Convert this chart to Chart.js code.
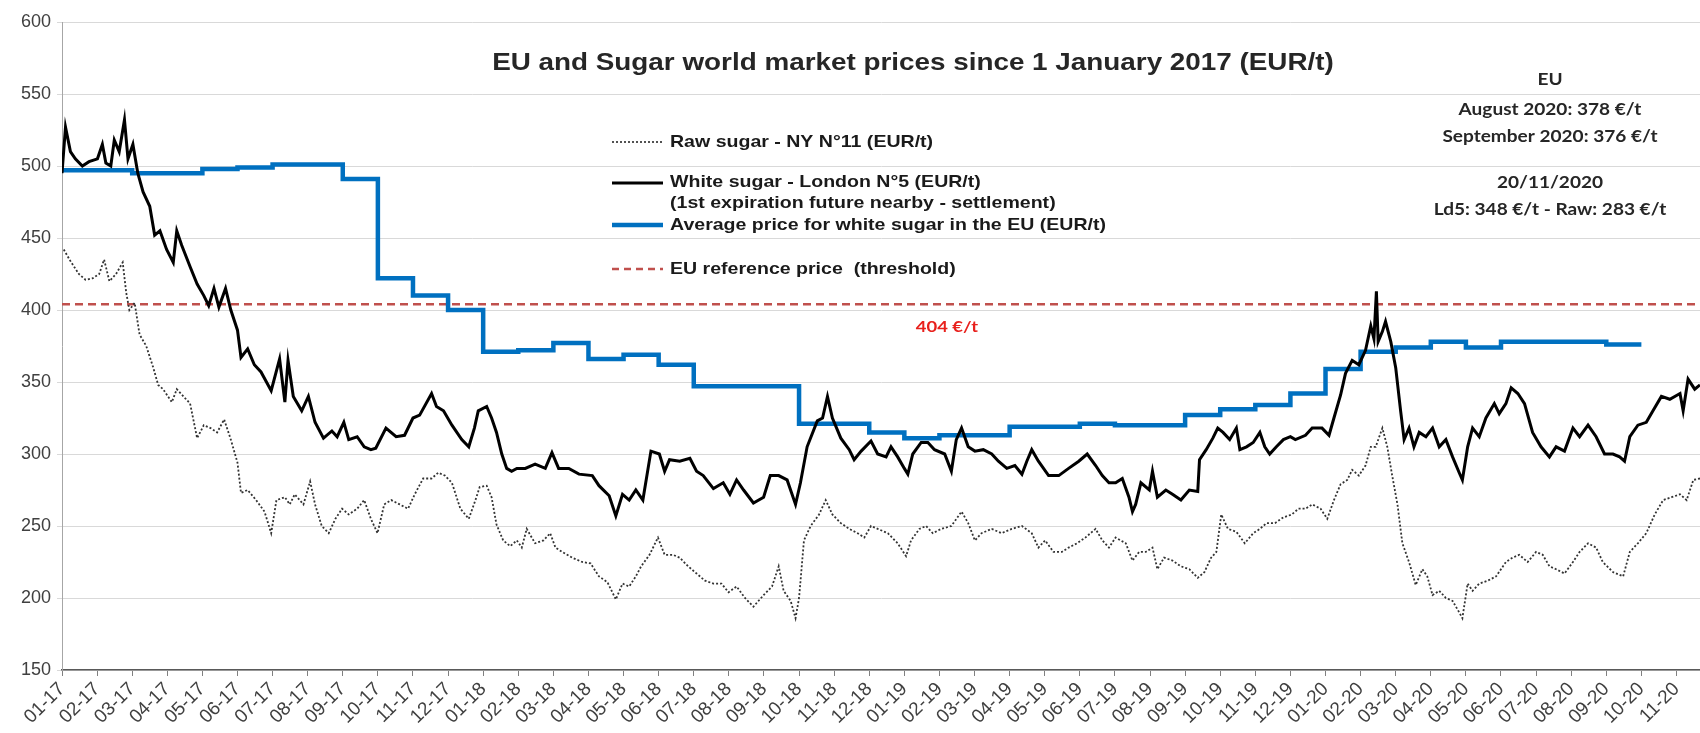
<!DOCTYPE html>
<html>
<head>
<meta charset="utf-8">
<script src="https://cdn.jsdelivr.net/npm/chart.js@4/dist/chart.umd.min.js"></script>
<style>
  body { margin: 0; background: #fff; }
  #wrap { width: 1700px; height: 733px; }
</style>
</head>
<body>
<div id="wrap"><canvas id="sugar-chart" width="1700" height="733"></canvas></div>
<script>
"use strict";

// month labels, tick every month from 01-17 to 11-20
const tickLabels = [
    "01-17", "02-17", "03-17", "04-17", "05-17", "06-17", "07-17", "08-17", "09-17", "10-17", "11-17", "12-17",
    "01-18", "02-18", "03-18", "04-18", "05-18", "06-18", "07-18", "08-18", "09-18", "10-18", "11-18", "12-18",
    "01-19", "02-19", "03-19", "04-19", "05-19", "06-19", "07-19", "08-19", "09-19", "10-19", "11-19", "12-19",
    "01-20", "02-20", "03-20", "04-20", "05-20", "06-20", "07-20", "08-20", "09-20", "10-20", "11-20"
];

// white sugar London N°5 (month offset since Jan 2017, EUR/t)
const whiteMonth = [
    0.00, 0.10, 0.24, 0.38, 0.58, 0.77, 1.01, 1.15, 1.25, 1.39, 1.49, 1.63, 1.78, 1.88, 2.02, 2.16, 2.31, 2.50, 2.64, 2.79,
    2.98, 3.17, 3.27, 3.41, 3.65, 3.85, 4.04, 4.18, 4.33, 4.47, 4.66, 4.81, 5.00, 5.10, 5.29, 5.48, 5.67, 5.96, 6.20, 6.35,
    6.44, 6.59, 6.83, 7.02, 7.21, 7.45, 7.69, 7.84, 8.03, 8.17, 8.41, 8.61, 8.80, 8.94, 9.23, 9.52, 9.76, 10.00, 10.19, 10.53,
    10.67, 10.87, 11.11, 11.39, 11.59, 11.75, 11.86, 12.10, 12.24, 12.38, 12.53, 12.67, 12.81, 12.96, 13.20, 13.48, 13.77, 13.96, 14.15, 14.44,
    14.73, 15.11, 15.30, 15.59, 15.78, 15.97, 16.16, 16.35, 16.55, 16.78, 17.02, 17.17, 17.31, 17.60, 17.89, 18.08, 18.27, 18.56, 18.84, 19.03,
    19.22, 19.42, 19.70, 19.99, 20.18, 20.42, 20.66, 20.90, 21.04, 21.23, 21.52, 21.67, 21.81, 21.95, 22.19, 22.43, 22.57, 22.77, 23.05, 23.24,
    23.48, 23.62, 23.81, 24.00, 24.10, 24.24, 24.48, 24.67, 24.86, 25.15, 25.34, 25.48, 25.63, 25.82, 26.01, 26.25, 26.49, 26.68, 26.92, 27.15,
    27.35, 27.49, 27.63, 27.82, 28.11, 28.40, 28.68, 28.97, 29.21, 29.45, 29.64, 29.83, 30.02, 30.21, 30.40, 30.50, 30.59, 30.74, 30.98, 31.07,
    31.21, 31.45, 31.64, 31.88, 32.12, 32.36, 32.41, 32.60, 32.79, 32.93, 33.08, 33.27, 33.46, 33.56, 33.75, 33.94, 34.13, 34.27, 34.41, 34.60,
    34.80, 35.00, 35.14, 35.43, 35.62, 35.90, 36.10, 36.24, 36.43, 36.57, 36.76, 36.95, 37.14, 37.29, 37.38, 37.45, 37.50, 37.62, 37.71, 37.86,
    38.00, 38.14, 38.24, 38.38, 38.52, 38.67, 38.86, 39.05, 39.24, 39.43, 39.62, 39.81, 39.90, 40.05, 40.19, 40.38, 40.57, 40.81, 40.95, 41.14,
    41.29, 41.48, 41.67, 41.90, 42.14, 42.38, 42.57, 42.81, 43.05, 43.24, 43.48, 43.71, 43.95, 44.19, 44.38, 44.52, 44.67, 44.90, 45.14, 45.33,
    45.57, 45.81, 46.10, 46.19, 46.33, 46.52, 46.67
];
const whitePrice = [
    495, 527, 510, 505, 500, 503, 505, 515, 502, 500, 518, 510, 532, 505, 515, 495, 482, 472, 452, 455,
    442, 433, 455, 445, 430, 418, 410, 403, 415, 402, 415, 400, 386, 367, 373, 362, 357, 344, 366, 336,
    365, 340, 330, 340, 322, 311, 316, 312, 322, 310, 312, 305, 303, 304, 318, 312, 313, 325, 327, 342,
    333, 330, 320, 310, 305, 318, 330, 333, 325, 315, 300, 290, 288, 290, 290, 293, 290, 301, 290, 290,
    286, 285, 278, 271, 257, 272, 268, 275, 268, 302, 300, 288, 296, 295, 297, 288, 285, 276, 280, 272,
    282, 275, 266, 270, 285, 285, 282, 265, 280, 305, 323, 325, 340, 325, 311, 303, 296, 302, 309, 300,
    298, 305, 298, 290, 286, 300, 308, 308, 303, 300, 288, 310, 318, 305, 302, 303, 300, 295, 290, 292,
    286, 295, 303, 295, 285, 285, 290, 295, 300, 292, 285, 280, 280, 283, 270, 260, 265, 280, 275, 288,
    270, 275, 272, 268, 275, 274, 296, 303, 311, 318, 315, 310, 318, 303, 305, 308, 315, 305, 300, 305,
    310, 312, 310, 313, 318, 318, 313, 325, 341, 356, 365, 362, 372, 389, 380, 413, 378, 385, 392, 378,
    360, 330, 310, 318, 305, 315, 312, 318, 305, 310, 298, 287, 282, 305, 318, 312, 325, 335, 328, 335,
    346, 342, 335, 315, 305, 298, 305, 302, 318, 312, 320, 312, 300, 300, 298, 295, 312, 320, 322, 330,
    340, 338, 342, 330, 352, 345, 348
];

// raw sugar NY N°11
const rawMonth = [
    0.05, 0.24, 0.48, 0.67, 0.87, 1.06, 1.20, 1.35, 1.54, 1.73, 1.83, 1.92, 2.07, 2.21, 2.40, 2.60, 2.74, 2.88, 3.13, 3.27,
    3.46, 3.65, 3.85, 4.04, 4.23, 4.42, 4.62, 4.81, 5.00, 5.10, 5.29, 5.53, 5.77, 5.96, 6.11, 6.35, 6.49, 6.63, 6.88, 7.07,
    7.21, 7.40, 7.60, 7.79, 7.98, 8.17, 8.41, 8.61, 8.80, 8.99, 9.18, 9.38, 9.62, 9.86, 10.05, 10.29, 10.53, 10.72, 10.91, 11.11,
    11.35, 11.59, 11.78, 11.90, 12.10, 12.24, 12.38, 12.57, 12.77, 12.96, 13.10, 13.24, 13.48, 13.72, 13.91, 14.06, 14.25, 14.54, 14.82, 15.06,
    15.30, 15.54, 15.78, 15.97, 16.16, 16.35, 16.50, 16.74, 16.98, 17.17, 17.41, 17.60, 17.84, 18.08, 18.32, 18.56, 18.79, 18.99, 19.22, 19.46,
    19.70, 19.99, 20.23, 20.42, 20.56, 20.76, 20.90, 21.00, 21.14, 21.33, 21.57, 21.76, 21.95, 22.19, 22.43, 22.67, 22.86, 23.05, 23.24, 23.53,
    23.81, 24.05, 24.19, 24.43, 24.62, 24.81, 25.05, 25.34, 25.63, 25.82, 26.01, 26.20, 26.49, 26.77, 27.06, 27.35, 27.63, 27.82, 28.01, 28.25,
    28.49, 28.68, 28.92, 29.16, 29.45, 29.64, 29.83, 30.02, 30.31, 30.50, 30.69, 30.88, 31.07, 31.21, 31.40, 31.64, 31.88, 32.12, 32.36, 32.55,
    32.74, 32.89, 33.03, 33.22, 33.46, 33.70, 33.94, 34.13, 34.32, 34.56, 34.80, 35.04, 35.23, 35.43, 35.62, 35.86, 36.05, 36.24, 36.43, 36.62,
    36.76, 36.95, 37.14, 37.29, 37.43, 37.62, 37.76, 37.90, 38.05, 38.19, 38.38, 38.57, 38.76, 38.90, 39.05, 39.24, 39.43, 39.62, 39.81, 39.90,
    40.05, 40.19, 40.38, 40.62, 40.86, 41.14, 41.33, 41.52, 41.76, 42.00, 42.19, 42.38, 42.57, 42.81, 43.05, 43.24, 43.48, 43.71, 43.90, 44.19,
    44.48, 44.67, 44.90, 45.14, 45.38, 45.62, 45.86, 46.10, 46.29, 46.48, 46.67
];
const rawPrice = [
    442, 434, 425, 421, 422, 425, 435, 420, 425, 433, 412, 400, 405, 383, 375, 360, 348, 345, 336, 345,
    340, 335, 311, 320, 318, 315, 324, 310, 294, 273, 275, 268, 260, 245, 268, 270, 265, 272, 265, 281,
    265, 250, 245, 255, 262, 258, 262, 268, 255, 245, 265, 268, 265, 262, 272, 283, 283, 287, 285, 280,
    262, 255, 268, 277, 278, 270, 251, 240, 236, 240, 235, 248, 238, 240, 245, 235, 232, 228, 225, 224,
    215, 211, 199, 210, 208, 215, 222, 230, 242, 230, 230, 228, 222, 217, 212, 210, 210, 204, 208, 200,
    194, 202, 208, 222, 205, 198, 186, 200, 240, 250, 258, 268, 258, 252, 248, 245, 242, 250, 248, 245,
    238, 229, 240, 248, 250, 245, 248, 250, 260, 252, 240, 245, 248, 245, 248, 250, 245, 235, 240, 232,
    232, 235, 238, 242, 248, 240, 235, 242, 238, 226, 232, 232, 235, 220, 228, 226, 222, 220, 214, 218,
    228, 232, 258, 248, 246, 238, 245, 248, 252, 252, 256, 258, 262, 262, 265, 262, 255, 268, 279, 282,
    289, 285, 292, 305, 305, 318, 305, 285, 265, 238, 225, 209, 220, 215, 202, 205, 200, 198, 190, 186,
    210, 205, 210, 212, 215, 225, 228, 230, 225, 232, 230, 222, 220, 217, 225, 232, 238, 235, 225, 218,
    215, 232, 238, 245, 258, 268, 270, 272, 268, 282, 283
];

// monthly EU average price for white sugar, Jan 2017 .. Sep 2020 (last step closes at 10-20)
const euAverage = [
    497, 497, 495, 495, 498, 499, 501, 501, 491, 422, 410, 400,
    371, 372, 377, 366, 369, 362, 347, 347, 347, 321, 321, 315,
    311, 313, 313, 319, 319, 321, 320, 320, 327, 331, 334, 342,
    359, 371, 374, 378, 374, 378, 378, 378, 376
];

const referencePrice = 404;
const xMax = 46.67;

const whitePoints = whiteMonth.map((m, i) => ({ x: m, y: whitePrice[i] }));
const rawPoints = rawMonth.map((m, i) => ({ x: m, y: rawPrice[i] }));
const avgPoints = euAverage.map((v, i) => ({ x: i, y: v }));
avgPoints.push({ x: euAverage.length, y: euAverage[euAverage.length - 1] });

const BLUE = "#0070c0";
const RED = "#c0504d";

function wideText(ctx, txt, x, y, sx, align) {
    ctx.save();
    ctx.translate(x, y);
    ctx.scale(sx, 1);
    ctx.textAlign = align;
    ctx.textBaseline = "middle";
    ctx.fillText(txt, 0, 0);
    ctx.restore();
}

function sampleLine(ctx, y, color, width, dash) {
    ctx.save();
    ctx.strokeStyle = color;
    ctx.lineWidth = width;
    ctx.setLineDash(dash);
    ctx.beginPath();
    ctx.moveTo(612, y);
    ctx.lineTo(663, y);
    ctx.stroke();
    ctx.restore();
}

const annotations = {
    id: "annotations",
    afterDraw(chart) {
        const ctx = chart.ctx;
        ctx.fillStyle = "#262626";
        ctx.font = "bold 24px 'Liberation Sans', Arial, sans-serif";
        wideText(ctx, "EU and Sugar world market prices since 1 January 2017 (EUR/t)", 913, 63, 1.16, "center");

        // legend
        sampleLine(ctx, 142, "#404040", 1.8, [2, 2]);
        sampleLine(ctx, 183, "#000000", 3, []);
        sampleLine(ctx, 225, BLUE, 4.5, []);
        sampleLine(ctx, 269, RED, 2.5, [7, 5]);
        ctx.fillStyle = "#1a1a1a";
        ctx.font = "bold 17px 'Liberation Sans', Arial, sans-serif";
        wideText(ctx, "Raw sugar - NY N°11 (EUR/t)", 670, 142, 1.15, "left");
        wideText(ctx, "White sugar - London N°5 (EUR/t)", 670, 182, 1.15, "left");
        wideText(ctx, "(1st expiration future nearby - settlement)", 670, 203, 1.15, "left");
        wideText(ctx, "Average price for white sugar in the EU (EUR/t)", 670, 225, 1.15, "left");
        wideText(ctx, "EU reference price  (threshold)", 670, 269, 1.15, "left");

        // threshold label
        ctx.fillStyle = "#e8201c";
        ctx.font = "bold 16px Lato, 'Open Sans', sans-serif";
        wideText(ctx, "404 €/t", 947, 327, 1.15, "center");

        // right-hand notes
        ctx.fillStyle = "#262626";
        ctx.font = "bold 17px Lato, 'Open Sans', sans-serif";
        wideText(ctx, "EU", 1550, 80, 1.12, "center");
        wideText(ctx, "August 2020: 378 €/t", 1550, 110, 1.12, "center");
        wideText(ctx, "September 2020: 376 €/t", 1550, 137, 1.12, "center");
        wideText(ctx, "20/11/2020", 1550, 183, 1.12, "center");
        wideText(ctx, "Ld5: 348 €/t - Raw: 283 €/t", 1550, 210, 1.12, "center");
    }
};

const chart = new Chart(document.getElementById("sugar-chart"), {
    type: "line",
    data: {
        datasets: [{
            label: "White sugar - London N°5 (EUR/t)",
            data: whitePoints,
            borderColor: "#000000",
            borderWidth: 3,
            pointRadius: 0,
            tension: 0,
        }, {
            label: "Average price for white sugar in the EU (EUR/t)",
            data: avgPoints,
            borderColor: BLUE,
            borderWidth: 4.5,
            pointRadius: 0,
            stepped: "before",
        }, {
            label: "Raw sugar - NY N°11 (EUR/t)",
            data: rawPoints,
            borderColor: "#333333",
            borderWidth: 1.8,
            borderDash: [2, 2],
            pointRadius: 0,
            tension: 0,
        }, {
            label: "EU reference price (threshold)",
            data: [{ x: 0, y: referencePrice }, { x: xMax, y: referencePrice }],
            borderColor: RED,
            borderWidth: 2.5,
            borderDash: [8, 5],
            pointRadius: 0,
        }]
    },
    options: {
        responsive: false,
        animation: false,
        parsing: false,
        layout: { padding: { top: 22, right: 0, left: 0, bottom: 0 } },
        plugins: {
            legend: { display: false },
            title: { display: false },
            tooltip: { enabled: false },
        },
        scales: {
            x: {
                type: "linear",
                min: 0,
                max: xMax,
                afterBuildTicks: (scale) => {
                    scale.ticks = tickLabels.map((t, i) => ({ value: i }));
                },
                afterFit: (scale) => { scale.height = 63; },
                ticks: {
                    autoSkip: false,
                    maxRotation: 45,
                    minRotation: 45,
                    padding: 2,
                    color: "#404040",
                    font: { family: "'Liberation Sans', Arial, sans-serif", size: 19 },
                    callback: (v) => tickLabels[v],
                },
                grid: { drawOnChartArea: false, drawTicks: true, tickLength: 6, color: "#808080" },
                border: { display: true, color: "#595959", width: 1.5 },
            },
            y: {
                min: 150,
                max: 600,
                afterFit: (scale) => { scale.width = 62; },
                ticks: {
                    stepSize: 50,
                    padding: 6,
                    color: "#404040",
                    font: { family: "'Liberation Sans', Arial, sans-serif", size: 18 },
                },
                grid: { color: "#d9d9d9", tickLength: 5 },
                border: { display: true, color: "#a6a6a6" },
            }
        }
    },
    plugins: [annotations]
});
</script>
</body>
</html>
